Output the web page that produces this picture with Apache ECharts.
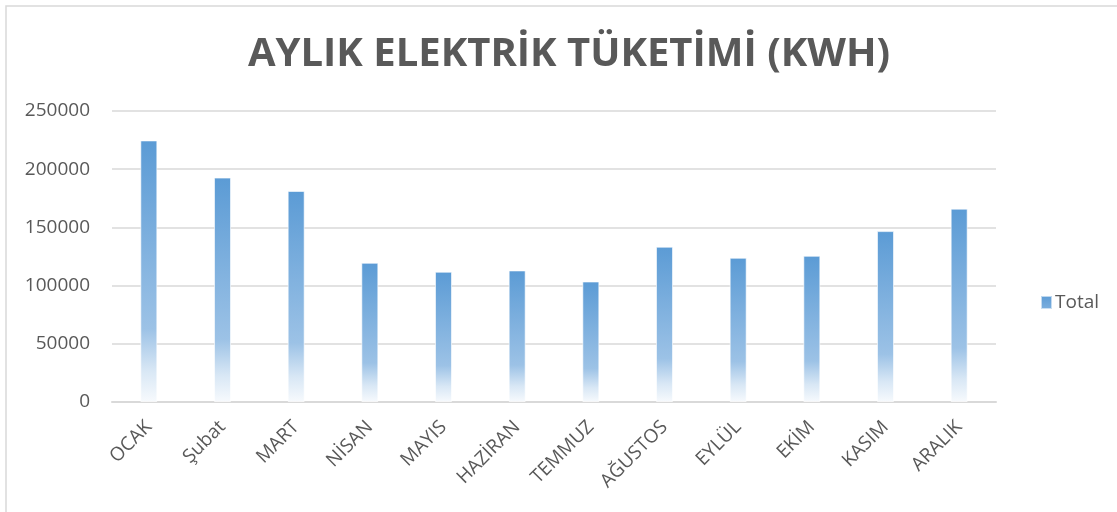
<!DOCTYPE html>
<html>
<head>
<meta charset="utf-8">
<script src="https://cdn.jsdelivr.net/npm/echarts@6/dist/echarts.min.js"></script>
<style>
html,body{margin:0;padding:0;background:#fff;}
#chart{width:1117px;height:512px;}
</style>
</head>
<body>
<div id="chart"></div>
<script>
const titleText = "AYLIK ELEKTRİK TÜKETİMİ (KWH)";
const categories = ["OCAK","Şubat","MART","NİSAN","MAYIS","HAZİRAN","TEMMUZ","AĞUSTOS","EYLÜL","EKİM","KASIM","ARALIK"];
const seriesName = "Total";
const totals = [224700,192800,181300,119600,111900,113000,103500,133400,123900,125600,146800,166100];
const yTicks = [0,50000,100000,150000,200000,250000];

const chart = echarts.init(document.getElementById('chart'), null, {renderer:'canvas'});
const barGrad = new echarts.graphic.LinearGradient(0,0,0,1,[
  {offset:0, color:'#5b9bd5'},
  {offset:0.72, color:'#9cc2e6'},
  {offset:0.88, color:'#d8e7f5'},
  {offset:1, color:'#f7fafd'}
]);
const legendGrad = new echarts.graphic.LinearGradient(0,0,0,1,[
  {offset:0, color:'#5b9bd5'},
  {offset:1, color:'#7fb0df'}
]);
const font = '"Open Sans", "Noto Sans", sans-serif';
chart.setOption({
  animation:false,
  backgroundColor:'#fff',
  title:{
    text:titleText,
    left:564, top:30, textAlign:'center',
    textStyle:{fontFamily:font, fontWeight:'bold', fontSize:40, color:'#595959'}
  },
  graphic:[{
    type:'rect', shape:{x:6, y:6, width:1130, height:530},
    style:{fill:'none', stroke:'#d9d9d9', lineWidth:1.5}, silent:true
  }],
  legend:{
    left:1035, top:288, itemWidth:11, itemHeight:13, itemGap:6,
    textStyle:{fontFamily:font, fontSize:19, color:'#595959', padding:[0,0,0,-2]},
    data:[{name:seriesName, icon:'rect', itemStyle:{color:legendGrad}}]
  },
  grid:{left:112, right:121, top:111, bottom:110, containLabel:false},
  xAxis:{
    type:'category', data:categories,
    axisLine:{lineStyle:{color:'#d9d9d9', width:2}},
    axisTick:{show:false},
    axisLabel:{rotate:45, interval:0, margin:22, fontFamily:font, fontSize:19, color:'#595959'}
  },
  yAxis:{
    type:'value', min:yTicks[0], max:yTicks[yTicks.length-1], interval:yTicks[1]-yTicks[0],
    axisLine:{show:false}, axisTick:{show:false},
    axisLabel:{margin:22, fontFamily:font, fontSize:19, color:'#595959', formatter:function(v){return String(v);}},
    splitLine:{lineStyle:{color:'#d9d9d9', width:1.5}}
  },
  series:[{
    name:seriesName, type:'bar', data:totals, barWidth:17,
    itemStyle:{color:barGrad, borderColor:'rgba(255,255,255,0.6)', borderWidth:1}
  }]
});
</script>
</body>
</html>
